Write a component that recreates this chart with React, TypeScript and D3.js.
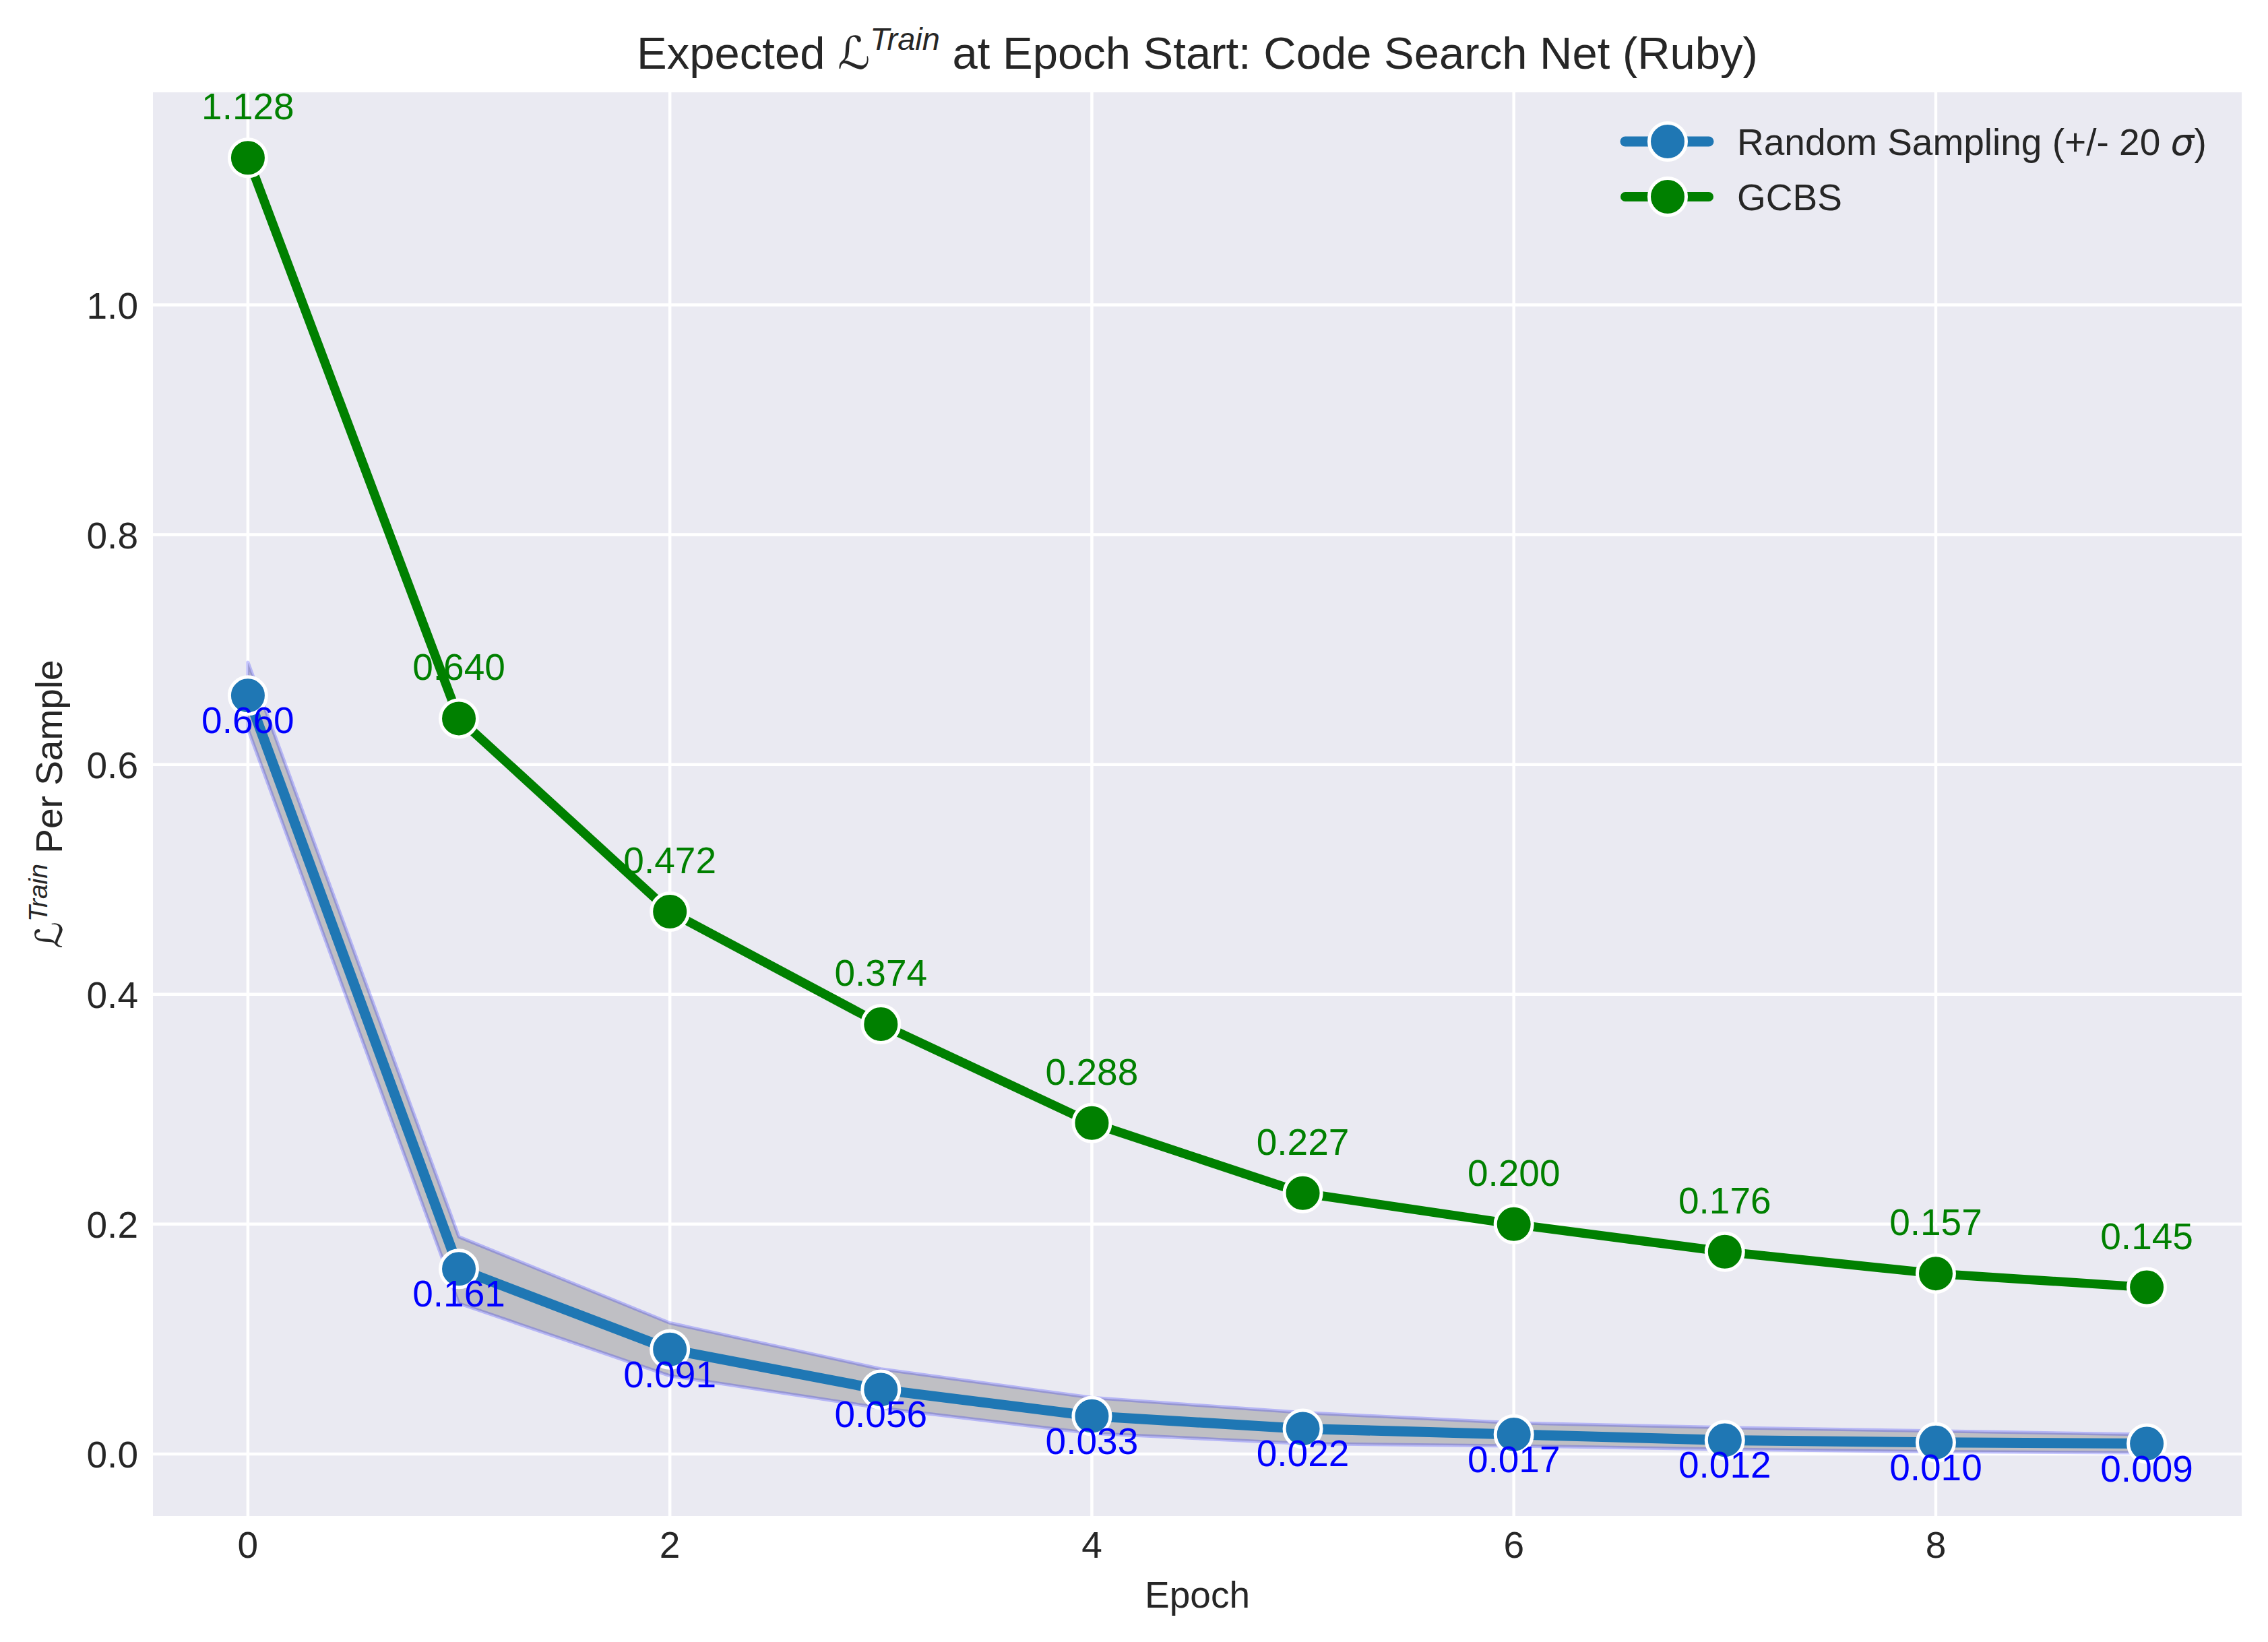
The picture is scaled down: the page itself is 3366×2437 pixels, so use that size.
import React from "react";
import * as d3 from "d3";

const epochs = [0, 1, 2, 3, 4, 5, 6, 7, 8, 9];
const randomMean = [0.66, 0.161, 0.091, 0.056, 0.033, 0.022, 0.017, 0.012, 0.01, 0.009];
const randomUpper = [0.689, 0.189, 0.114, 0.074, 0.049, 0.036, 0.027, 0.023, 0.02, 0.017];
const randomLower = [0.631, 0.131, 0.068, 0.04, 0.018, 0.009, 0.007, 0.004, 0.002, 0.001];
const gcbs = [1.128, 0.64, 0.472, 0.374, 0.288, 0.227, 0.2, 0.176, 0.157, 0.145];
const xTicks = [0, 2, 4, 6, 8];
const yTicks = [0, 0.2, 0.4, 0.6, 0.8, 1.0];

const W = 3366;
const H = 2437;
const L = 227, R = 3327, T = 137, B = 2250;
const FONT = "'Liberation Sans', Arial, Helvetica, sans-serif";
const TXT = "#262626";
const BLUE = "#1f77b4";
const GREEN = "#008000";
const FS = 55;

export default function App() {
  const x = d3.scaleLinear().domain([-0.45, 9.45]).range([L, R]);
  const y = d3.scaleLinear().domain([-0.054, 1.185]).range([B, T]);

  const band = d3
    .area<number>()
    .x((d) => x(epochs[d]))
    .y0((d) => y(randomLower[d]))
    .y1((d) => y(randomUpper[d]));
  const idx = epochs.map((_, i) => i);
  const lineR = d3.line<number>().x((d) => x(epochs[d])).y((d) => y(randomMean[d]));
  const lineG = d3.line<number>().x((d) => x(epochs[d])).y((d) => y(gcbs[d]));

  const cx = (L + R) / 2;
  const cy = (T + B) / 2;

  return (
    <svg
      width={W}
      height={H}
      viewBox={`0 0 ${W} ${H}`}
      style={{ position: "absolute", left: 0, top: 0, background: "#fff" }}
      fontFamily={FONT}
    >
      <rect x={0} y={0} width={W} height={H} fill="#ffffff" />
      <rect x={L} y={T} width={R - L} height={B - T} fill="#eaeaf2" />
      {xTicks.map((t) => (
        <line key={"gx" + t} x1={x(t)} x2={x(t)} y1={T} y2={B} stroke="#ffffff" strokeWidth={4.5} />
      ))}
      {yTicks.map((t) => (
        <line key={"gy" + t} x1={L} x2={R} y1={y(t)} y2={y(t)} stroke="#ffffff" strokeWidth={4.5} />
      ))}
      <path d={band(idx) || ""} fill="#808080" fillOpacity={0.4} stroke="#0000ff" strokeOpacity={0.22} strokeWidth={5} strokeLinejoin="round" />
      <path d={lineR(idx) || ""} fill="none" stroke={BLUE} strokeWidth={15} strokeLinejoin="round" strokeLinecap="round" />
      {idx.map((i) => (
        <circle key={"mr" + i} cx={x(epochs[i])} cy={y(randomMean[i])} r={27.5} fill={BLUE} stroke="#fff" strokeWidth={5} />
      ))}
      <path d={lineG(idx) || ""} fill="none" stroke={GREEN} strokeWidth={13.5} strokeLinejoin="round" strokeLinecap="round" />
      {idx.map((i) => (
        <circle key={"mg" + i} cx={x(epochs[i])} cy={y(gcbs[i])} r={27.5} fill={GREEN} stroke="#fff" strokeWidth={5} />
      ))}
      {idx.map((i) => (
        <text key={"lr" + i} x={x(epochs[i])} y={y(randomMean[i]) + 56} textAnchor="middle" fontSize={FS} fill="#0000ff">
          {randomMean[i].toFixed(3)}
        </text>
      ))}
      {idx.map((i) => (
        <text key={"lg" + i} x={x(epochs[i])} y={y(gcbs[i]) - 57} textAnchor="middle" fontSize={FS} fill={GREEN}>
          {gcbs[i].toFixed(3)}
        </text>
      ))}
      {xTicks.map((t) => (
        <text key={"tx" + t} x={x(t)} y={2312} textAnchor="middle" fontSize={FS} fill={TXT}>
          {String(t)}
        </text>
      ))}
      {yTicks.map((t) => (
        <text key={"ty" + t} x={205} y={y(t) + 20} textAnchor="end" fontSize={FS} fill={TXT}>
          {t.toFixed(1)}
        </text>
      ))}
      <text x={cx} y={2386} textAnchor="middle" fontSize={FS} fill={TXT}>
        Epoch
      </text>
      <text transform={`translate(92,${cy}) rotate(-90)`} textAnchor="middle" fontSize={FS} fill={TXT}>
        <tspan fontFamily="'DejaVu Sans'" fontStyle="italic">ℒ</tspan>
        <tspan dy={-22} fontSize={39} fontStyle="italic">Train</tspan>
        <tspan dy={22}> Per Sample</tspan>
      </text>
      <text x={cx} y={102} textAnchor="middle" fontSize={67} fill={TXT}>
        Expected{" "}
        <tspan fontFamily="'DejaVu Sans'" fontStyle="italic">ℒ</tspan>
        <tspan dy={-28} fontSize={47} fontStyle="italic">Train</tspan>
        <tspan dy={28}> at Epoch Start: Code Search Net (Ruby)</tspan>
      </text>
      <g>
        <line x1={2412} x2={2536} y1={210} y2={210} stroke={BLUE} strokeWidth={15} strokeLinecap="round" />
        <circle cx={2475} cy={210} r={27.5} fill={BLUE} stroke="#fff" strokeWidth={5} />
        <text x={2578} y={230} fontSize={FS} fill={TXT}>
          Random Sampling (+/- 20 <tspan fontStyle="italic" fontFamily="'DejaVu Sans'">σ</tspan>)
        </text>
        <line x1={2412} x2={2536} y1={292} y2={292} stroke={GREEN} strokeWidth={14} strokeLinecap="round" />
        <circle cx={2475} cy={292} r={27.5} fill={GREEN} stroke="#fff" strokeWidth={5} />
        <text x={2578} y={312} fontSize={FS} fill={TXT}>
          GCBS
        </text>
      </g>
    </svg>
  );
}
